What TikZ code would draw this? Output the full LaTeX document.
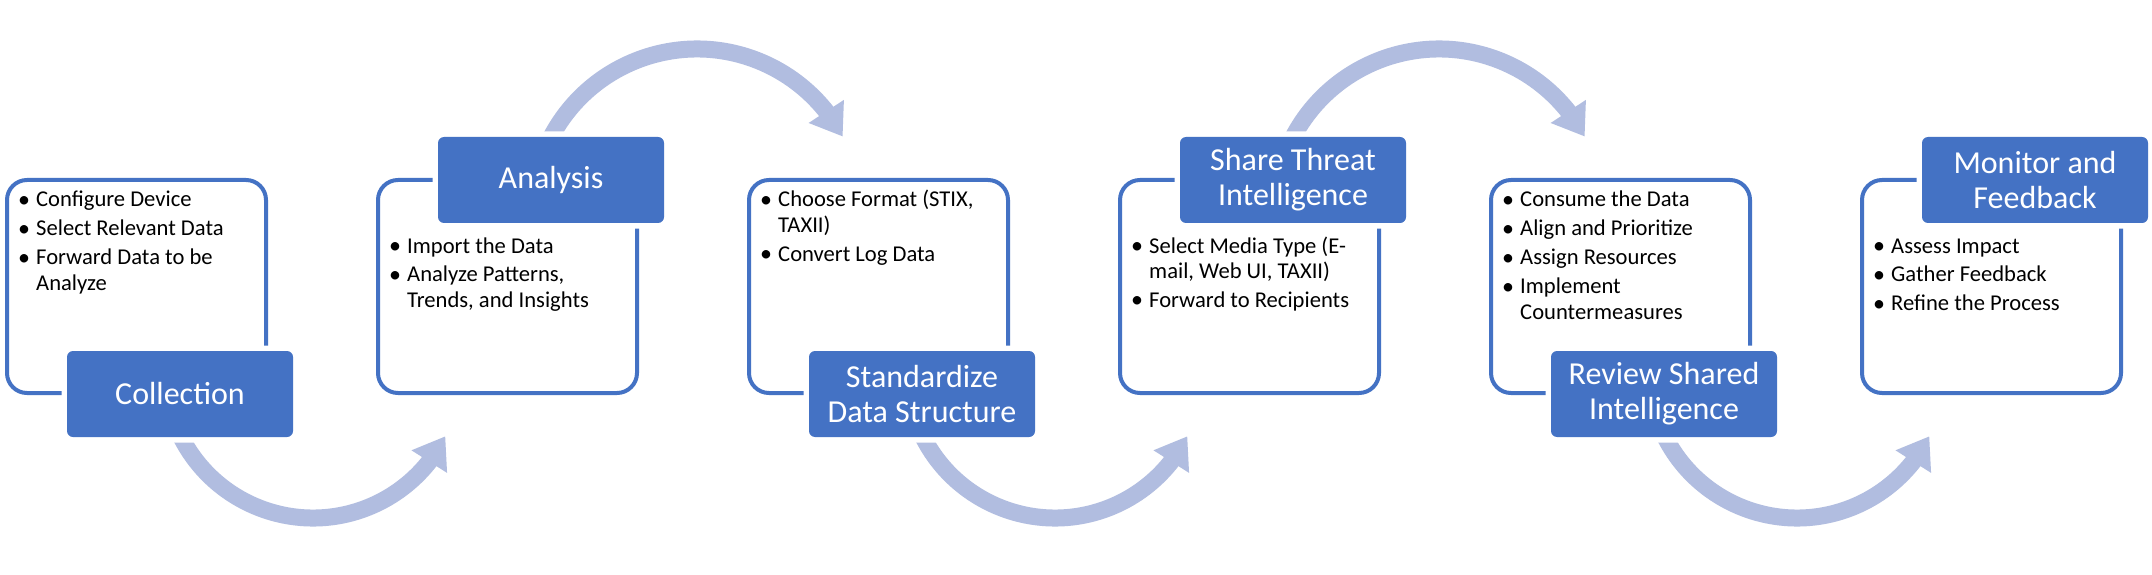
\documentclass[tikz,border=0pt]{standalone}
\usepackage{fontspec}
\setmainfont{Carlito}
\usetikzlibrary{arrows.meta,bending}
\definecolor{sblue}{RGB}{68,114,196}
\definecolor{sarrow}{RGB}{177,189,224}
\newcommand{\bitem}[1]{\makebox[17pt][l]{\hspace*{-1pt}\raisebox{-0.5pt}{\fontsize{24}{24}\selectfont\textbullet}}#1}
\newcommand{\bcont}{\hspace*{17pt}}
\begin{document}
\begin{tikzpicture}[x=1pt,y=1pt,
  outline/.style={draw=sblue, line width=4pt, rounded corners=20pt, minimum width=259pt, minimum height=213pt, inner sep=0pt},
  lbl/.style={fill=sblue, rounded corners=6pt, preaction={draw=white, line width=11pt, rounded corners=6pt}, minimum width=226pt, minimum height=86pt, inner sep=0pt, text=white, align=center, font=\fontsize{32}{35}\selectfont},
  txt/.style={anchor=base west, inner sep=0pt, font=\fontsize{22.6}{25.5}\selectfont},
  flow/.style={draw=sarrow, line width=17pt, -{Triangle[width=40pt,length=30pt]}}
]
\useasboundingbox[fill=white] (0,0) rectangle (2152,574);

% outline boxes
\node[outline] (o1) at (136.5,287.5) {};
\node[outline] (o2) at (507.5,287.5) {};
\node[outline] (o3) at (878.5,287.5) {};
\node[outline] (o4) at (1249.5,287.5) {};
\node[outline] (o5) at (1620.5,287.5) {};
\node[outline] (o6) at (1991.5,287.5) {};

% arc centres
\coordinate (c1) at (313,204);
\coordinate (c2) at (697,360);
\coordinate (c3) at (1055,204);
\coordinate (c4) at (1439,360);
\coordinate (c5) at (1797,204);

% arrows
\draw[flow] ([shift={(205:148)}]c1) arc[start angle=205, end angle=333.4, radius=148];
\draw[flow] ([shift={(155:165)}]c2) arc[start angle=155, end angle=28, radius=165];
\draw[flow] ([shift={(205:148)}]c3) arc[start angle=205, end angle=333.4, radius=148];
\draw[flow] ([shift={(155:165)}]c4) arc[start angle=155, end angle=28, radius=165];
\draw[flow] ([shift={(205:148)}]c5) arc[start angle=205, end angle=333.4, radius=148];

% labels
\node[lbl] (l1) at (180,180) {Collection};
\node[lbl] (l2) at (551,394) {Analysis};
\node[lbl] (l3) at (922,180) {Standardize\\Data Structure};
\node[lbl] (l4) at (1293,394) {Share Threat\\Intelligence};
\node[lbl] (l5) at (1664,180) {Review Shared\\Intelligence};
\node[lbl] (l6) at (2035,394) {Monitor and\\Feedback};

% texts
\node[txt] (t1) at (19,367) {\parbox[t]{250pt}{\bitem{Configure Device}\\[3.5pt]\bitem{Select Relevant Data}\\[3.5pt]\bitem{Forward Data to be}\\\bcont Analyze}};
\node[txt] (t2) at (390,321) {\parbox[t]{250pt}{\bitem{Import the Data}\\[3.5pt]\bitem{Analyze Patterns,}\\\bcont Trends, and Insights}};
\node[txt] (t3) at (761,367) {\parbox[t]{250pt}{\bitem{Choose Format (STIX,}\\\bcont TAXII)\\[3.5pt]\bitem{Convert Log Data}}};
\node[txt] (t4) at (1132,321) {\parbox[t]{250pt}{\bitem{Select Media Type (E-}\\\bcont mail, Web UI, TAXII)\\[3.5pt]\bitem{Forward to Recipients}}};
\node[txt] (t5) at (1503,367) {\parbox[t]{250pt}{\bitem{Consume the Data}\\[3.5pt]\bitem{Align and Prioritize}\\[3.5pt]\bitem{Assign Resources}\\[3.5pt]\bitem{Implement}\\\bcont Countermeasures}};
\node[txt] (t6) at (1874,321) {\parbox[t]{250pt}{\bitem{Assess Impact}\\[3.5pt]\bitem{Gather Feedback}\\[3.5pt]\bitem{Refine the Process}}};
\end{tikzpicture}
\end{document}
